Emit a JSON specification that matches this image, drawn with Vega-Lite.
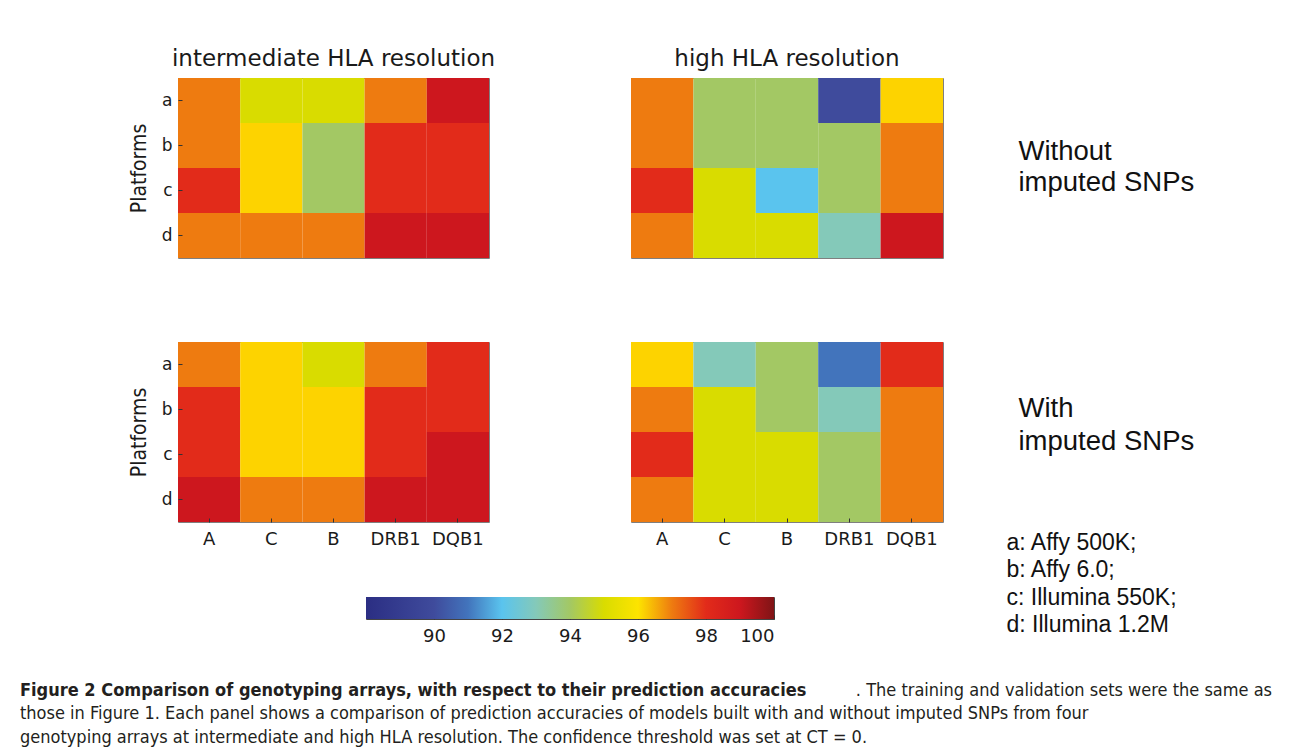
{
  "$schema": "https://vega.github.io/schema/vega-lite/v6.json",
  "background": "white",
  "autosize": {"type": "pad"},
  "padding": {"left": 20, "top": 47, "right": 0, "bottom": 0},
  "datasets": {
    "cells": [
      {"resolution":"intermediate","snps":"without","platform":"a","locus":"A","accuracy":97},
      {"resolution":"intermediate","snps":"without","platform":"a","locus":"C","accuracy":95},
      {"resolution":"intermediate","snps":"without","platform":"a","locus":"B","accuracy":95},
      {"resolution":"intermediate","snps":"without","platform":"a","locus":"DRB1","accuracy":97},
      {"resolution":"intermediate","snps":"without","platform":"a","locus":"DQB1","accuracy":99},
      {"resolution":"intermediate","snps":"without","platform":"b","locus":"A","accuracy":97},
      {"resolution":"intermediate","snps":"without","platform":"b","locus":"C","accuracy":96},
      {"resolution":"intermediate","snps":"without","platform":"b","locus":"B","accuracy":94},
      {"resolution":"intermediate","snps":"without","platform":"b","locus":"DRB1","accuracy":98},
      {"resolution":"intermediate","snps":"without","platform":"b","locus":"DQB1","accuracy":98},
      {"resolution":"intermediate","snps":"without","platform":"c","locus":"A","accuracy":98},
      {"resolution":"intermediate","snps":"without","platform":"c","locus":"C","accuracy":96},
      {"resolution":"intermediate","snps":"without","platform":"c","locus":"B","accuracy":94},
      {"resolution":"intermediate","snps":"without","platform":"c","locus":"DRB1","accuracy":98},
      {"resolution":"intermediate","snps":"without","platform":"c","locus":"DQB1","accuracy":98},
      {"resolution":"intermediate","snps":"without","platform":"d","locus":"A","accuracy":97},
      {"resolution":"intermediate","snps":"without","platform":"d","locus":"C","accuracy":97},
      {"resolution":"intermediate","snps":"without","platform":"d","locus":"B","accuracy":97},
      {"resolution":"intermediate","snps":"without","platform":"d","locus":"DRB1","accuracy":99},
      {"resolution":"intermediate","snps":"without","platform":"d","locus":"DQB1","accuracy":99},

      {"resolution":"high","snps":"without","platform":"a","locus":"A","accuracy":97},
      {"resolution":"high","snps":"without","platform":"a","locus":"C","accuracy":94},
      {"resolution":"high","snps":"without","platform":"a","locus":"B","accuracy":94},
      {"resolution":"high","snps":"without","platform":"a","locus":"DRB1","accuracy":90},
      {"resolution":"high","snps":"without","platform":"a","locus":"DQB1","accuracy":96},
      {"resolution":"high","snps":"without","platform":"b","locus":"A","accuracy":97},
      {"resolution":"high","snps":"without","platform":"b","locus":"C","accuracy":94},
      {"resolution":"high","snps":"without","platform":"b","locus":"B","accuracy":94},
      {"resolution":"high","snps":"without","platform":"b","locus":"DRB1","accuracy":94},
      {"resolution":"high","snps":"without","platform":"b","locus":"DQB1","accuracy":97},
      {"resolution":"high","snps":"without","platform":"c","locus":"A","accuracy":98},
      {"resolution":"high","snps":"without","platform":"c","locus":"C","accuracy":95},
      {"resolution":"high","snps":"without","platform":"c","locus":"B","accuracy":92},
      {"resolution":"high","snps":"without","platform":"c","locus":"DRB1","accuracy":94},
      {"resolution":"high","snps":"without","platform":"c","locus":"DQB1","accuracy":97},
      {"resolution":"high","snps":"without","platform":"d","locus":"A","accuracy":97},
      {"resolution":"high","snps":"without","platform":"d","locus":"C","accuracy":95},
      {"resolution":"high","snps":"without","platform":"d","locus":"B","accuracy":95},
      {"resolution":"high","snps":"without","platform":"d","locus":"DRB1","accuracy":93},
      {"resolution":"high","snps":"without","platform":"d","locus":"DQB1","accuracy":99},

      {"resolution":"intermediate","snps":"with","platform":"a","locus":"A","accuracy":97},
      {"resolution":"intermediate","snps":"with","platform":"a","locus":"C","accuracy":96},
      {"resolution":"intermediate","snps":"with","platform":"a","locus":"B","accuracy":95},
      {"resolution":"intermediate","snps":"with","platform":"a","locus":"DRB1","accuracy":97},
      {"resolution":"intermediate","snps":"with","platform":"a","locus":"DQB1","accuracy":98},
      {"resolution":"intermediate","snps":"with","platform":"b","locus":"A","accuracy":98},
      {"resolution":"intermediate","snps":"with","platform":"b","locus":"C","accuracy":96},
      {"resolution":"intermediate","snps":"with","platform":"b","locus":"B","accuracy":96},
      {"resolution":"intermediate","snps":"with","platform":"b","locus":"DRB1","accuracy":98},
      {"resolution":"intermediate","snps":"with","platform":"b","locus":"DQB1","accuracy":98},
      {"resolution":"intermediate","snps":"with","platform":"c","locus":"A","accuracy":98},
      {"resolution":"intermediate","snps":"with","platform":"c","locus":"C","accuracy":96},
      {"resolution":"intermediate","snps":"with","platform":"c","locus":"B","accuracy":96},
      {"resolution":"intermediate","snps":"with","platform":"c","locus":"DRB1","accuracy":98},
      {"resolution":"intermediate","snps":"with","platform":"c","locus":"DQB1","accuracy":99},
      {"resolution":"intermediate","snps":"with","platform":"d","locus":"A","accuracy":99},
      {"resolution":"intermediate","snps":"with","platform":"d","locus":"C","accuracy":97},
      {"resolution":"intermediate","snps":"with","platform":"d","locus":"B","accuracy":97},
      {"resolution":"intermediate","snps":"with","platform":"d","locus":"DRB1","accuracy":99},
      {"resolution":"intermediate","snps":"with","platform":"d","locus":"DQB1","accuracy":99},

      {"resolution":"high","snps":"with","platform":"a","locus":"A","accuracy":96},
      {"resolution":"high","snps":"with","platform":"a","locus":"C","accuracy":93},
      {"resolution":"high","snps":"with","platform":"a","locus":"B","accuracy":94},
      {"resolution":"high","snps":"with","platform":"a","locus":"DRB1","accuracy":91},
      {"resolution":"high","snps":"with","platform":"a","locus":"DQB1","accuracy":98},
      {"resolution":"high","snps":"with","platform":"b","locus":"A","accuracy":97},
      {"resolution":"high","snps":"with","platform":"b","locus":"C","accuracy":95},
      {"resolution":"high","snps":"with","platform":"b","locus":"B","accuracy":94},
      {"resolution":"high","snps":"with","platform":"b","locus":"DRB1","accuracy":93},
      {"resolution":"high","snps":"with","platform":"b","locus":"DQB1","accuracy":97},
      {"resolution":"high","snps":"with","platform":"c","locus":"A","accuracy":98},
      {"resolution":"high","snps":"with","platform":"c","locus":"C","accuracy":95},
      {"resolution":"high","snps":"with","platform":"c","locus":"B","accuracy":95},
      {"resolution":"high","snps":"with","platform":"c","locus":"DRB1","accuracy":94},
      {"resolution":"high","snps":"with","platform":"c","locus":"DQB1","accuracy":97},
      {"resolution":"high","snps":"with","platform":"d","locus":"A","accuracy":97},
      {"resolution":"high","snps":"with","platform":"d","locus":"C","accuracy":95},
      {"resolution":"high","snps":"with","platform":"d","locus":"B","accuracy":95},
      {"resolution":"high","snps":"with","platform":"d","locus":"DRB1","accuracy":94},
      {"resolution":"high","snps":"with","platform":"d","locus":"DQB1","accuracy":97}
    ],
    "caption": [
      {"line": 1, "part": "lead", "text": "Figure 2 Comparison of genotyping arrays, with respect to their prediction accuracies"},
      {"line": 1, "part": "tail", "text": ". The training and validation sets were the same as"},
      {"line": 2, "part": "body", "text": "those in Figure 1. Each panel shows a comparison of prediction accuracies of models built with and without imputed SNPs from four"},
      {"line": 3, "part": "body", "text": "genotyping arrays at intermediate and high HLA resolution. The confidence threshold was set at CT = 0."}
    ]
  },
  "config": {
    "view": {"stroke": null},
    "axis": {"labelFont": "DejaVu Sans", "labelColor": "#1a1a1a", "labelFontSize": 18, "tickColor": "#333333", "domain": false, "grid": false, "titleFontWeight": "normal", "titleColor": "#1a1a1a"},
    "title": {"font": "DejaVu Sans", "fontSize": 23, "fontWeight": "normal", "color": "#1a1a1a", "baseline": "alphabetic", "offset": 7}
  },
  "spacing": 33,
  "vconcat": [
    {
      "spacing": 62.5,
      "hconcat": [
        {
          "spacing": 47,
          "vconcat": [
            {
              "spacing": 82,
              "vconcat": [
                {
                  "bounds": "flush",
                  "spacing": 142,
                  "hconcat": [
                    {"width": 16, "height": 180, "data": {"values": []}, "mark": {"type": "rect"}, "encoding": {}},
                    {
                      "width": 311, "height": 180,
                      "view": {"stroke": "#7f7f7f"},
                      "title": "intermediate HLA resolution",
                      "data": {"name": "cells"},
                      "transform": [{"filter": "datum.resolution === 'intermediate' && datum.snps === 'without'"}],
                      "mark": {"type": "rect"},
                      "encoding": {
                        "x": {"field": "locus", "type": "nominal", "sort": ["A","C","B","DRB1","DQB1"], "axis": null},
                        "y": {"field": "platform", "type": "nominal", "sort": ["a","b","c","d"], "axis": {"title": "Platforms", "titleFont": "Liberation Sans Narrow, DejaVu Sans Condensed, sans-serif", "titleFontSize": 21, "titlePadding": 12, "labelFontSize": 17, "labelPadding": 10, "tickSize": -4, "labelAngle": 0}},
                        "fill": {"field": "accuracy", "type": "quantitative", "legend": null, "scale": {"domain": [88,90,91,92,93,94,95,96,97,98,99,100], "range": ["#2b2e83","#3f4b9c","#4274bc","#5ac4ee","#84c9b9","#a3c864","#d9dc00","#fdd300","#ee7b10","#e22b1a","#cd171e","#7f1416"], "interpolate": "rgb"}}
                      }
                    },
                    {
                      "width": 312, "height": 180,
                      "view": {"stroke": "#7f7f7f"},
                      "title": "high HLA resolution",
                      "data": {"name": "cells"},
                      "transform": [{"filter": "datum.resolution === 'high' && datum.snps === 'without'"}],
                      "mark": {"type": "rect"},
                      "encoding": {
                        "x": {"field": "locus", "type": "nominal", "sort": ["A","C","B","DRB1","DQB1"], "axis": null},
                        "y": {"field": "platform", "type": "nominal", "sort": ["a","b","c","d"], "axis": null},
                        "fill": {"field": "accuracy", "type": "quantitative", "legend": null, "scale": {"domain": [88,90,91,92,93,94,95,96,97,98,99,100], "range": ["#2b2e83","#3f4b9c","#4274bc","#5ac4ee","#84c9b9","#a3c864","#d9dc00","#fdd300","#ee7b10","#e22b1a","#cd171e","#7f1416"], "interpolate": "rgb"}}
                      }
                    }
                  ]
                },
                {
                  "bounds": "flush",
                  "spacing": 142,
                  "hconcat": [
                    {"width": 16, "height": 180, "data": {"values": []}, "mark": {"type": "rect"}, "encoding": {}},
                    {
                      "width": 311, "height": 180,
                      "view": {"stroke": "#7f7f7f"},
                      "data": {"name": "cells"},
                      "transform": [{"filter": "datum.resolution === 'intermediate' && datum.snps === 'with'"}],
                      "mark": {"type": "rect"},
                      "encoding": {
                        "x": {"field": "locus", "type": "nominal", "sort": ["A","C","B","DRB1","DQB1"], "axis": {"title": null, "labelAngle": 0, "labelPadding": 12, "tickSize": -4}},
                        "y": {"field": "platform", "type": "nominal", "sort": ["a","b","c","d"], "axis": {"title": "Platforms", "titleFont": "Liberation Sans Narrow, DejaVu Sans Condensed, sans-serif", "titleFontSize": 21, "titlePadding": 12, "labelFontSize": 17, "labelPadding": 10, "tickSize": -4, "labelAngle": 0}},
                        "fill": {"field": "accuracy", "type": "quantitative", "legend": null, "scale": {"domain": [88,90,91,92,93,94,95,96,97,98,99,100], "range": ["#2b2e83","#3f4b9c","#4274bc","#5ac4ee","#84c9b9","#a3c864","#d9dc00","#fdd300","#ee7b10","#e22b1a","#cd171e","#7f1416"], "interpolate": "rgb"}}
                      }
                    },
                    {
                      "width": 312, "height": 180,
                      "view": {"stroke": "#7f7f7f"},
                      "data": {"name": "cells"},
                      "transform": [{"filter": "datum.resolution === 'high' && datum.snps === 'with'"}],
                      "mark": {"type": "rect"},
                      "encoding": {
                        "x": {"field": "locus", "type": "nominal", "sort": ["A","C","B","DRB1","DQB1"], "axis": {"title": null, "labelAngle": 0, "labelPadding": 12, "tickSize": -4}},
                        "y": {"field": "platform", "type": "nominal", "sort": ["a","b","c","d"], "axis": null},
                        "fill": {"field": "accuracy", "type": "quantitative", "legend": null, "scale": {"domain": [88,90,91,92,93,94,95,96,97,98,99,100], "range": ["#2b2e83","#3f4b9c","#4274bc","#5ac4ee","#84c9b9","#a3c864","#d9dc00","#fdd300","#ee7b10","#e22b1a","#cd171e","#7f1416"], "interpolate": "rgb"}}
                      }
                    }
                  ]
                }
              ]
            },
            {
              "bounds": "flush",
              "spacing": 10,
              "hconcat": [
                {"width": 336, "height": 22, "data": {"values": []}, "mark": {"type": "rect"}, "encoding": {}},
                {
                  "width": 408, "height": 22,
                  "view": {"stroke": "#444444"},
                  "data": {"values": [{"lo": 88, "hi": 100}]},
                  "mark": {"type": "rect", "fill": {"gradient": "linear", "x1": 0, "y1": 0, "x2": 1, "y2": 0, "stops": [
                    {"offset": 0, "color": "#2b2e83"},
                    {"offset": 0.1667, "color": "#3f4b9c"},
                    {"offset": 0.25, "color": "#4274bc"},
                    {"offset": 0.3333, "color": "#5ac4ee"},
                    {"offset": 0.4167, "color": "#84c9b9"},
                    {"offset": 0.5, "color": "#a3c864"},
                    {"offset": 0.5833, "color": "#d9dc00"},
                    {"offset": 0.6667, "color": "#fde400"},
                    {"offset": 0.75, "color": "#ee7b10"},
                    {"offset": 0.8333, "color": "#e22b1a"},
                    {"offset": 0.9167, "color": "#cd171e"},
                    {"offset": 1, "color": "#7f1416"}
                  ]}},
                  "encoding": {
                    "x": {"field": "lo", "type": "quantitative", "scale": {"domain": [88, 100], "nice": false, "zero": false}, "axis": {"title": null, "values": [90,92,94,96,98,100], "labelFontSize": 18, "labelPadding": 12, "tickSize": -4}},
                    "x2": {"field": "hi"}
                  }
                }
              ]
            }
          ]
        },
        {
          "bounds": "flush",
          "spacing": 0,
          "center": true,
          "vconcat": [
            {
              "width": 84, "height": 82,
              "data": {"values": [{"label": "Without\nimputed SNPs"}]},
              "mark": {"type": "text", "align": "left", "baseline": "alphabetic", "font": "Liberation Sans", "fontSize": 27.5, "lineHeight": 31, "lineBreak": "\n", "color": "#111111"},
              "encoding": {"text": {"field": "label"}, "x": {"value": 0}, "y": {"value": "height"}}
            },
            {
              "width": 84, "height": 257,
              "data": {"values": [{"label": "With\nimputed SNPs"}]},
              "mark": {"type": "text", "align": "left", "baseline": "alphabetic", "font": "Liberation Sans", "fontSize": 27.5, "lineHeight": 33, "lineBreak": "\n", "color": "#111111"},
              "encoding": {"text": {"field": "label"}, "x": {"value": 0}, "y": {"value": "height"}}
            },
            {
              "width": 108, "height": 133,
              "data": {"values": [{"label": "a: Affy 500K;\nb: Affy 6.0;\nc: Illumina 550K;\nd: Illumina 1.2M"}]},
              "mark": {"type": "text", "align": "left", "baseline": "alphabetic", "font": "Liberation Sans", "fontSize": 23, "lineHeight": 27.3, "lineBreak": "\n", "color": "#111111"},
              "encoding": {"text": {"field": "label"}, "x": {"value": 0}, "y": {"value": "height"}}
            }
          ]
        }
      ]
    },
    {
      "width": 1252, "height": 70.5,
      "data": {"name": "caption"},
      "encoding": {
        "y": {"field": "line", "type": "ordinal", "axis": null, "scale": {"type": "point", "padding": 0.5}},
        "text": {"field": "text"}
      },
      "layer": [
        {
          "transform": [{"filter": "datum.part === 'lead'"}],
          "mark": {"type": "text", "align": "left", "baseline": "middle", "font": "Liberation Sans Narrow, DejaVu Sans Condensed, sans-serif", "fontWeight": "bold", "fontSize": 18, "color": "#231f20"},
          "encoding": {"x": {"value": 0}}
        },
        {
          "transform": [{"filter": "datum.part === 'tail'"}],
          "mark": {"type": "text", "align": "right", "baseline": "middle", "font": "Liberation Sans Narrow, DejaVu Sans Condensed, sans-serif", "fontSize": 18, "color": "#231f20"},
          "encoding": {"x": {"value": "width"}}
        },
        {
          "transform": [{"filter": "datum.part === 'body'"}],
          "mark": {"type": "text", "align": "left", "baseline": "middle", "font": "Liberation Sans Narrow, DejaVu Sans Condensed, sans-serif", "fontSize": 18, "color": "#231f20"},
          "encoding": {"x": {"value": 0}}
        }
      ]
    }
  ]
}
